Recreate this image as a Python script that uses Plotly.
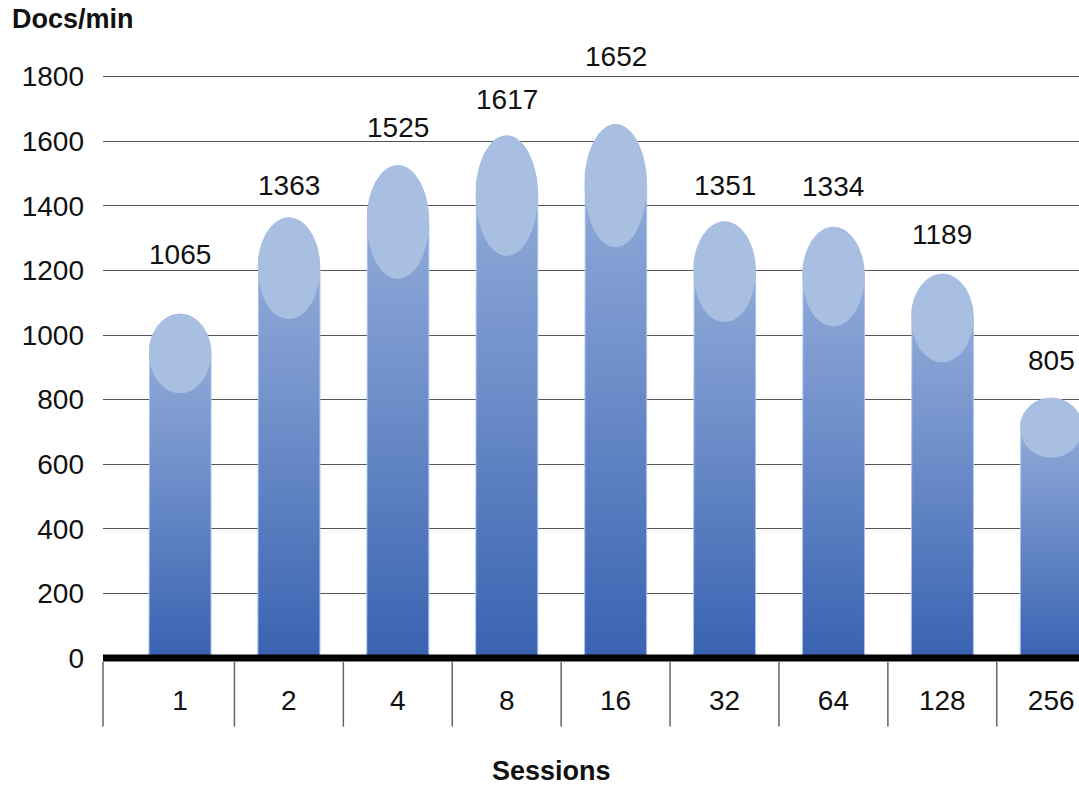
import numpy as np
import plotly.graph_objects as go

# Throughput per number of concurrent sessions
sessions = ["1", "2", "4", "8", "16", "32", "64", "128", "256"]
docs_per_min = [1065, 1363, 1525, 1617, 1652, 1351, 1334, 1189, 805]

# vertical lift (px) of each value label above its column
label_lift = [60, 32, 38, 36, 68, 36, 41, 40, 38]

FONT = "Liberation Sans, Arial, sans-serif"
FONT_SIZE = 28
BAR_W = 0.57          # column width in category units
CAP_FRAC = 0.23       # height of the rounded cap relative to the column value
BODY_SCALE = [[0.0, "#3962B1"], [0.55, "#7090CA"], [1.0, "#9AB2DD"]]
CAP_COLOR = "#A8BFE1"
EDGE_COLOR = "#A9C3EC"

fig = go.Figure()
shapes = []

for i, v in enumerate(docs_per_min):
    cap_h = v * CAP_FRAC
    cy = v - cap_h / 2
    rx = BAR_W / 2
    theta = np.linspace(np.pi, 0, 60)
    xs = np.concatenate([[i - rx], i + rx * np.cos(theta), [i + rx, i - rx]])
    ys = np.concatenate([[0], cy + (cap_h / 2) * np.sin(theta), [0, 0]])
    fig.add_trace(go.Scatter(
        x=xs, y=ys, mode="lines", fill="toself",
        line=dict(color=EDGE_COLOR, width=1),
        fillgradient=dict(type="vertical", colorscale=BODY_SCALE),
        hoverinfo="skip", showlegend=False,
    ))
    # lighter elliptical cap on top of each column
    shapes.append(dict(
        type="circle", xref="x", yref="y",
        x0=i - rx, x1=i + rx, y0=v - cap_h, y1=v,
        fillcolor=CAP_COLOR, line=dict(width=0), layer="above",
    ))

# heavy baseline at zero
shapes.append(dict(type="line", xref="paper", yref="y", x0=0, x1=1, y0=0, y1=0,
                   line=dict(color="black", width=7), layer="above"))

# category box separators under the baseline
sep_x = [("paper", 0)] + [("x", i + 0.5) for i in range(len(sessions) - 1)]
for ref, xv in sep_x:
    shapes.append(dict(type="line", xref=ref, yref="paper", x0=xv, x1=xv,
                       y0=0, y1=-0.11, line=dict(color="#666666", width=1.5),
                       layer="above"))

annotations = []
for i, (v, lift) in enumerate(zip(docs_per_min, label_lift)):
    annotations.append(dict(
        x=i, y=v, xref="x", yref="y", text=str(v), showarrow=False,
        yanchor="middle", yshift=lift,
        font=dict(family=FONT, size=FONT_SIZE, color="#111111"),
    ))

annotations.append(dict(
    x=-0.0953, y=1.095, xref="paper", yref="paper", text="<b>Docs/min</b>",
    showarrow=False, xanchor="left", yanchor="middle",
    font=dict(family=FONT, size=FONT_SIZE - 1, color="#111111"),
))
annotations.append(dict(
    x=0.46, y=-0.185, xref="paper", yref="paper", text="<b>Sessions</b>",
    showarrow=False, xanchor="center", yanchor="middle",
    font=dict(family=FONT, size=FONT_SIZE - 1, color="#111111"),
))

fig.update_layout(
    width=1079, height=788, autosize=False,
    margin=dict(l=103, r=0, t=75, b=126),
    paper_bgcolor="white", plot_bgcolor="white",
    shapes=shapes, annotations=annotations,
    xaxis=dict(
        range=[-0.707, 8.255], tickvals=list(range(len(sessions))), ticktext=sessions,
        showgrid=False, zeroline=False, showline=False, ticks="",
        tickfont=dict(family=FONT, size=FONT_SIZE, color="#111111"),
        ticklabelstandoff=19, fixedrange=True,
    ),
    yaxis=dict(
        range=[-12, 1805], tickvals=list(range(0, 1801, 200)),
        showgrid=True, gridcolor="#555555", gridwidth=1.3,
        zeroline=False, showline=False, ticks="",
        tickfont=dict(family=FONT, size=FONT_SIZE, color="#111111"),
        ticklabelstandoff=18, fixedrange=True,
    ),
)

fig.write_html("out.html")
